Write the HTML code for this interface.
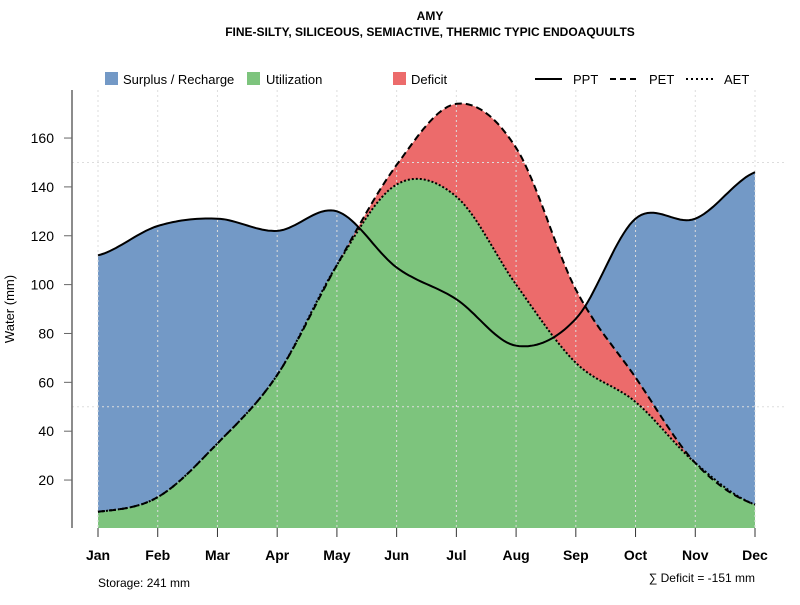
<!DOCTYPE html>
<html><head><meta charset="utf-8"><style>
body{margin:0;background:#fff;font-family:"Liberation Sans",sans-serif}
svg text{font-family:"Liberation Sans",sans-serif}
</style></head><body>
<svg id="c" width="800" height="600" xmlns="http://www.w3.org/2000/svg">
<text x="430" y="20" text-anchor="middle" font-size="12" font-weight="bold">AMY</text>
<text x="430" y="36" text-anchor="middle" font-size="12" font-weight="bold">FINE-SILTY, SILICEOUS, SEMIACTIVE, THERMIC TYPIC ENDOAQUULTS</text>
<g id="plot"></g>
<g font-size="13">
<rect x="105" y="72" width="13" height="13" fill="#7399c6"/>
<text x="123" y="84">Surplus / Recharge</text>
<rect x="247" y="72" width="13" height="13" fill="#7dc47d"/>
<text x="266" y="84">Utilization</text>
<rect x="393" y="72" width="13" height="13" fill="#ec6b6b"/>
<text x="411" y="84">Deficit</text>
<line x1="535" y1="79" x2="562" y2="79" stroke="#000" stroke-width="2"/>
<text x="573" y="84">PPT</text>
<line x1="610" y1="79" x2="637" y2="79" stroke="#000" stroke-width="2" stroke-dasharray="6,4"/>
<text x="649" y="84">PET</text>
<line x1="686" y1="79" x2="713" y2="79" stroke="#000" stroke-width="2" stroke-dasharray="2,3"/>
<text x="724" y="84">AET</text>
</g>
<text x="98" y="587" font-size="12">Storage: 241 mm</text>
<text x="755" y="582" text-anchor="end" font-size="12">∑ Deficit = -151 mm</text>
<text transform="translate(14,309) rotate(-90)" text-anchor="middle" font-size="13">Water (mm)</text>
</svg>
<script>
const months=["Jan","Feb","Mar","Apr","May","Jun","Jul","Aug","Sep","Oct","Nov","Dec"];
const ppt=[112,124,127,122,130,107,94,75,86,127,127,146];
const pet=[7,13,35,63,108,149,174,156,98,62,27,10];
const aet=[7,13,35,63,108,141,136,100,68,52,27,10];
const yTicks=[20,40,60,80,100,120,140,160];
const NS="http://www.w3.org/2000/svg";
const g=document.getElementById('plot');
const X=i=>98+i*(755-98)/11;
const Y=v=>528.9-v*(342/140);
function mk(t,a,p){const e=document.createElementNS(NS,t);for(const k in a)e.setAttribute(k,a[k]);(p||g).appendChild(e);return e;}
function spline(arr){const pts=[];const n=arr.length;for(let i=0;i<n-1;i++){const p0=arr[Math.max(i-1,0)],p1=arr[i],p2=arr[i+1],p3=arr[Math.min(i+2,n-1)];for(let s=0;s<20;s++){const t=s/20,t2=t*t,t3=t2*t;const v=0.5*((2*p1)+(-p0+p2)*t+(2*p0-5*p1+4*p2-p3)*t2+(-p0+3*p1-3*p2+p3)*t3);pts.push([X(i+t),Y(v)]);}}pts.push([X(n-1),Y(arr[n-1])]);return pts;}
function line(pts){return pts.map((p,i)=>(i?'L':'M')+p[0].toFixed(1)+','+p[1].toFixed(1)).join('');}
function area(pts){return line(pts)+`L${X(11)},528L${X(0)},528Z`;}
const sp=spline(ppt),se=spline(pet),sa=spline(aet);
let e;
e=mk('path',{d:area(sp),fill:'#7399c6'});

e=mk('path',{d:area(se),fill:'#ec6b6b'});

e=mk('path',{d:area(sa),fill:'#7dc47d'});

months.forEach((m,i)=>{
 e=mk('line',{x1:X(i),x2:X(i),y1:90,y2:528,stroke:'#ddd','stroke-dasharray':'2,3'});
 
 e=mk('line',{x1:X(i),x2:X(i),y1:528,y2:537,stroke:'#333'});
 
 e=mk('text',{x:X(i),y:560,'text-anchor':'middle','font-size':14,'font-weight':'bold'});e.textContent=m;
 
});
[50,150].forEach(v=>{e=mk('line',{x1:72,x2:785,y1:Y(v),y2:Y(v),stroke:'#ddd','stroke-dasharray':'2,3'});
 });
e=mk('line',{x1:72,x2:72,y1:90,y2:528,stroke:'#666','stroke-width':1.5});

yTicks.forEach(v=>{
 e=mk('line',{x1:64,x2:72,y1:Y(v),y2:Y(v),stroke:'#666'});
 
 e=mk('text',{x:54,y:Y(v)+5,'text-anchor':'end','font-size':14});e.textContent=v;
 
});
e=mk('path',{d:line(sp),fill:'none',stroke:'#000','stroke-width':2});

e=mk('path',{d:line(se),fill:'none',stroke:'#000','stroke-width':2,'stroke-dasharray':'7,4'});

e=mk('path',{d:line(sa),fill:'none',stroke:'#000','stroke-width':2,'stroke-dasharray':'2,2'});

</script>
</body></html>
